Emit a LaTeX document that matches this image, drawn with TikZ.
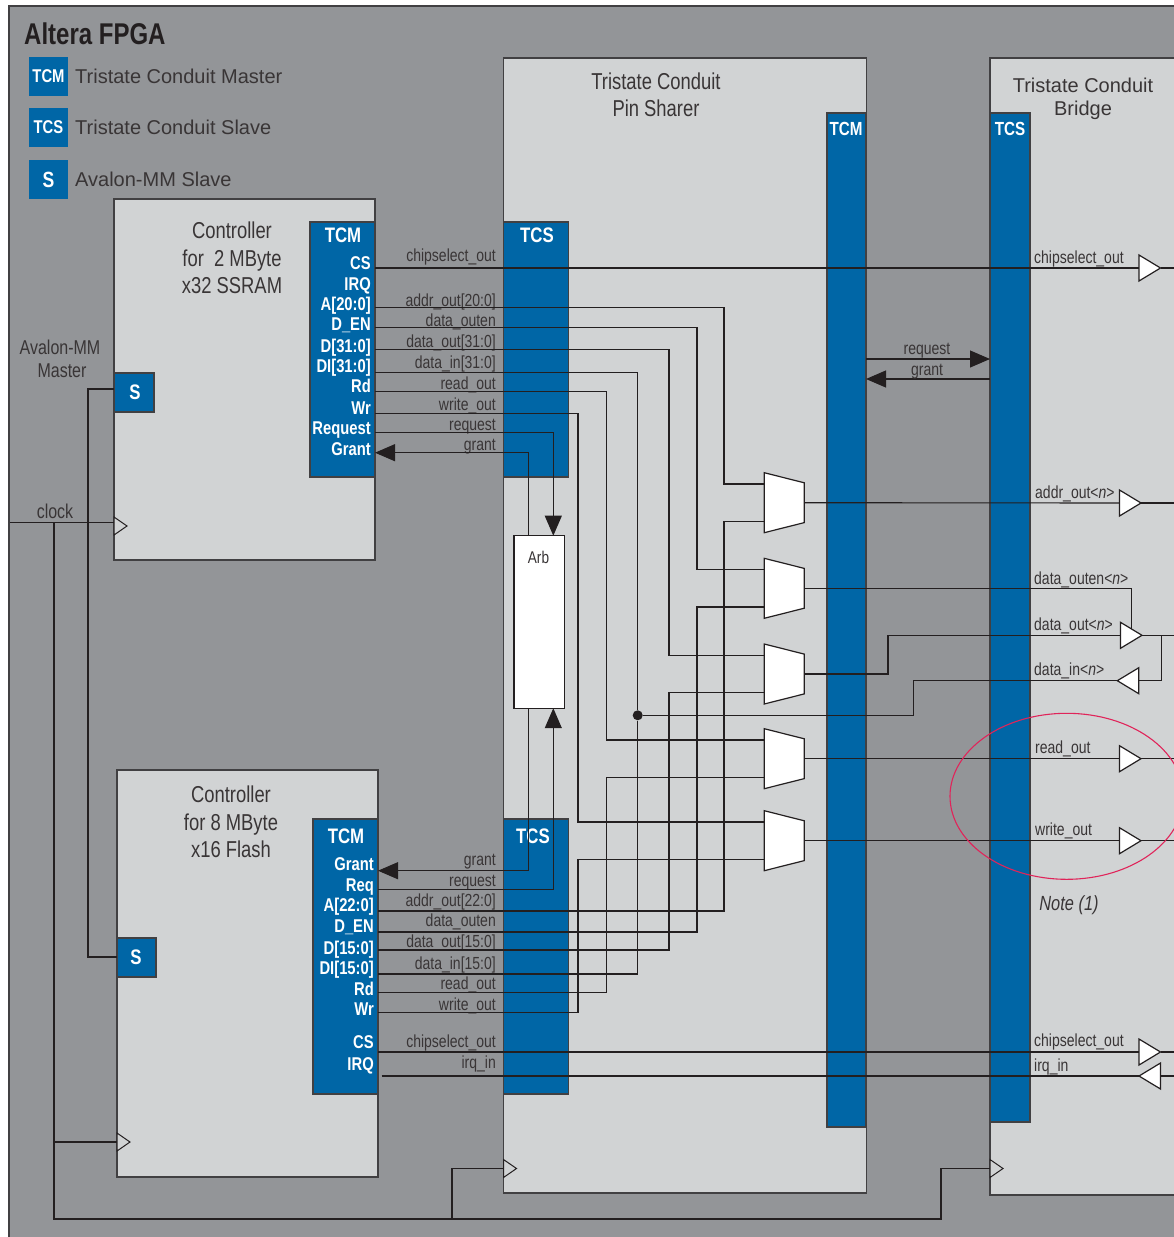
\documentclass[tikz,border=0pt]{standalone}
\usepackage{fontspec}
\setmainfont{Liberation Sans}
\newfontfamily\condfont[FakeStretch=0.8]{Liberation Sans}
\usetikzlibrary{arrows.meta,calc,shapes.geometric}
\definecolor{ink}{HTML}{231F20}
\definecolor{edge}{HTML}{414042}
\definecolor{fpgagray}{HTML}{939598}
\definecolor{panelgray}{HTML}{D1D3D4}
\definecolor{conduitblue}{HTML}{0066A6}
\definecolor{noteline}{HTML}{E0245A}

\tikzset{
  panel/.style={draw=edge,line width=1.3pt,fill=panelgray,anchor=north west,inner sep=0pt,outer sep=0pt},
  bluebar/.style={draw=edge,line width=1.1pt,fill=conduitblue,anchor=north west,inner sep=0pt,outer sep=0pt},
  legendbox/.style={fill=conduitblue,text=white,minimum width=39pt,minimum height=39pt,inner sep=0pt,
        font=\condfont\bfseries\fontsize{18.5}{18.5}\selectfont},
  legendtext/.style={anchor=base west,inner sep=0pt,text=ink!90,font=\fontsize{20}{20}\selectfont},
  porthead/.style={anchor=base,inner sep=0pt,text=white,font=\condfont\bfseries\fontsize{21}{21}\selectfont},
  pinlabel/.style={anchor=base east,inner sep=0pt,text=white,font=\condfont\bfseries\fontsize{18.5}{18.5}\selectfont},
  wirelabel/.style={anchor=base east,inner sep=0pt,text=ink!90,font=\condfont\fontsize{17.5}{17.5}\selectfont},
  sidelabel/.style={wirelabel,anchor=base west},
  blocktitle/.style={align=center,inner sep=0pt,text=ink!90,font=\condfont\fontsize{23}{27.5}\selectfont},
  wire/.style={draw=ink,line width=1.1pt},
  bigarrow/.style={wire,-{Triangle[length=20pt,width=17pt]},shorten >=0pt},
  muxbox/.style={trapezium,trapezium stretches=true,shape border rotate=270,trapezium angle=75,
        draw=ink,line width=1.2pt,fill=white,inner sep=0pt,outer sep=0pt,minimum width=60pt,minimum height=40pt,
        execute at begin node=\phantom{x}},
  buffer/.style={isosceles triangle,isosceles triangle stretches=true,anchor=apex,draw=ink,line width=1.2pt,
        fill=white,inner sep=0pt,outer sep=0pt,minimum width=26pt,minimum height=21.5pt,
        execute at begin node=\phantom{x}},
  clockmark/.style={isosceles triangle,isosceles triangle stretches=true,anchor=lower side,draw=ink,line width=1pt,
        fill=panelgray,inner sep=0pt,outer sep=0pt,minimum width=18pt,minimum height=13pt,
        execute at begin node=\phantom{x}},
}

\begin{document}
\begin{tikzpicture}[x=1pt,y=-1pt]
  \useasboundingbox (0,0) rectangle (1174,1237);
  \clip (0,0) rectangle (1174,1237);

  % device outline and legend
  \node[panel,fill=fpgagray,minimum width=1190pt,minimum height=1260pt] (fpga) at (9,6) {};
  \node[anchor=base west,inner sep=0pt,text=ink,font=\condfont\bfseries\fontsize{30}{30}\selectfont] (fpgatitle) at (24,44) {Altera FPGA};
  \node[legendbox] (lgtcm) at (48.5,76.5) {TCM};
  \node[legendbox] (lgtcs) at (48.5,127.5) {TCS};
  \node[legendbox,font=\condfont\bfseries\fontsize{22}{22}\selectfont] (lgs) at (48.5,179.5) {S};
  \node[legendtext] (lgtcmtext) at (75,83.2) {Tristate Conduit Master};
  \node[legendtext] (lgtcstext) at (75,134) {Tristate Conduit Slave};
  \node[legendtext] (lgstext) at (75,186.2) {Avalon-MM Slave};

  % main blocks
  \node[panel,minimum width=261pt,minimum height=361pt] (ctrla) at (114,199) {};
  \node[panel,minimum width=261pt,minimum height=407pt] (ctrlb) at (117,770) {};
  \node[panel,minimum width=363pt,minimum height=1135pt] (sharer) at (503.5,58) {};
  \node[panel,minimum width=220pt,minimum height=1137pt] (bridge) at (990,58) {};
  \node[bluebar,minimum width=65pt,minimum height=255pt] (tcma) at (310,222) {};
  \node[bluebar,minimum width=65pt,minimum height=275pt] (tcmb) at (313,819) {};
  \node[bluebar,minimum width=65pt,minimum height=255pt] (tcsa) at (503.5,222) {};
  \node[bluebar,minimum width=65pt,minimum height=275pt] (tcsb) at (503.5,819) {};
  \node[bluebar,minimum width=39pt,minimum height=1014pt] (tcmshare) at (827,113) {};
  \node[bluebar,minimum width=40pt,minimum height=1009pt] (tcsbridge) at (990,113) {};
  \node[bluebar,minimum width=40pt,minimum height=39pt] (slavea) at (114,373) {};
  \node[bluebar,minimum width=39pt,minimum height=39pt] (slaveb) at (117,938) {};
  \node[panel,fill=white,draw=ink,minimum width=50.5pt,minimum height=172.5pt] (arb) at (514,535.7) {};
  \node[anchor=base,inner sep=0pt,text=ink!90,font=\condfont\fontsize{17}{17}\selectfont] (arbtext) at (538.5,563) {Arb};

  % block titles
  \node[blocktitle] (ctrlatitle) at (232,258) {Controller\\for\ \ 2 MByte\\x32 SSRAM};
  \node[blocktitle] (ctrlbtitle) at (231,822) {Controller\\for 8 MByte\\x16 Flash};
  \node[blocktitle] (sharertitle) at (656,95) {Tristate Conduit\\Pin Sharer};
  \node[blocktitle,font=\fontsize{20}{23}\selectfont] (bridgetitle) at (1083,99) {Tristate Conduit\\Bridge};
  \node[blocktitle,font=\condfont\fontsize{20}{23}\selectfont] (mastertitle) at (60,359) {Avalon-MM\\\hspace*{4pt}Master};
  \node[anchor=base,inner sep=0pt,text=ink!90,font=\condfont\fontsize{20}{20}\selectfont] (clocktext) at (55,518) {clock};
  \node[anchor=base,inner sep=0pt,text=ink!90,font=\condfont\itshape\fontsize{20.5}{20.5}\selectfont] (notetext) at (1069,910) {Note (1)};

  % port headers
  \node[porthead] (tcmahead) at (343,242.3) {TCM};
  \node[porthead] (tcsahead) at (537,242.3) {TCS};
  \node[porthead] (tcmbhead) at (346,843.3) {TCM};
  \node[porthead] (tcsbhead) at (533,843.3) {TCS};
  \node[porthead,font=\condfont\bfseries\fontsize{19}{19}\selectfont] (tcmsharehead) at (846,135) {TCM};
  \node[porthead,font=\condfont\bfseries\fontsize{19}{19}\selectfont] (tcsbridgehead) at (1010,135) {TCS};
  \node[porthead] (slaveahead) at (135,399) {S};
  \node[porthead] (slavebhead) at (136,964) {S};

  % pins and wire labels of the two controllers
  \foreach \sig/\ptext/\wtext/\py/\ly/\wy in {
    cs/CS/chipselect\_out/269.3/261/268,
    addr/A[20:0]/addr\_out[20:0]/310.7/306/307.3,
    outen/D\_EN/data\_outen/330.7/326.7/327.7,
    dout/D[31:0]/data\_out[31:0]/352.7/347.7/349.3,
    din/DI[31:0]/data\_in[31:0]/372.7/368.3/372.7,
    read/Rd/read\_out/392.7/389.3/391.7,
    write/Wr/write\_out/414/410/413.3,
    req/Request/request/434/430/432.7,
    grant/Grant/grant/455/450.7/452.7}{
    \node[pinlabel] (mapin-\sig) at (371,\py) {\ptext};
    \node[wirelabel] (malbl-\sig) at (496,\ly) {\wtext};
    \coordinate (ma-\sig) at (375,\wy);
  }
  \node[pinlabel] (mapin-irq) at (371,290) {IRQ};
  \foreach \sig/\ptext/\wtext/\py/\ly/\wy in {
    grant/Grant/grant/870.7/865/870.7,
    req/Req/request/891.7/886/889.3,
    addr/A[22:0]/addr\_out[22:0]/911.7/906.7/911,
    outen/D\_EN/data\_outen/932.7/926.7/932,
    dout/D[15:0]/data\_out[15:0]/954.3/947.7/950,
    din/DI[15:0]/data\_in[15:0]/974/969.3/974,
    read/Rd/read\_out/995/989.3/992.3,
    write/Wr/write\_out/1015.7/1010/1012.3,
    cs/CS/chipselect\_out/1048.3/1047.3/1052,
    irq/IRQ/irq\_in/1070/1068.3/1076}{
    \node[pinlabel] (mbpin-\sig) at (374,\py) {\ptext};
    \node[wirelabel] (mblbl-\sig) at (496,\ly) {\wtext};
    \coordinate (mb-\sig) at (378,\wy);
  }

  % multiplexers
  \foreach \muxname/\muxY in {addr/502.7,outen/588.3,dout/674,read/758.7,write/840.7}{
    \node[muxbox] (mux-\muxname) at (784.3,\muxY) {};
    \coordinate (mux-\muxname-a) at ($(mux-\muxname.bottom side)+(0,-18.7)$);
    \coordinate (mux-\muxname-b) at ($(mux-\muxname.bottom side)+(0,18.7)$);
  }

  % routing from both controllers to the multiplexers
  \foreach \sig/\trackX in {addr/724,outen/697,dout/669,read/606.5,write/578}{
    \coordinate (trk-\sig) at (\trackX,600);
    \draw[wire] (ma-\sig) -| (trk-\sig |- mux-\sig-a) -- (mux-\sig-a);
    \draw[wire] (mb-\sig) -| (trk-\sig |- mux-\sig-b) -- (mux-\sig-b);
  }
  \node[circle,fill=ink,minimum size=10pt,inner sep=0pt] (jdin) at (637.7,715.3) {};
  \draw[wire] (ma-din) -| (jdin);
  \draw[wire] (mb-din) -| (jdin);

  % arbiter
  \coordinate (trkgrant) at (528.3,600);
  \coordinate (trkreq) at (553.3,600);
  \draw[bigarrow] (arb.north -| trkgrant) |- (ma-grant);
  \draw[bigarrow] (ma-req) -| (arb.north -| trkreq);
  \draw[bigarrow] (arb.south -| trkgrant) |- (mb-grant);
  \draw[bigarrow] (mb-req) -| (arb.south -| trkreq);

  % request and grant to the bridge
  \coordinate (shareR) at (866,359);
  \coordinate (bridgeR) at (990,359);
  \coordinate (shareG) at (866,379);
  \coordinate (bridgeG) at (990,379);
  \draw[bigarrow] (shareR) -- (bridgeR);
  \draw[bigarrow] (bridgeG) -- (shareG);
  \node[wirelabel,anchor=base] (reqtext) at (927,354) {request};
  \node[wirelabel,anchor=base] (granttext) at (927,375) {grant};

  % pins leaving on the right
  \node[buffer] (bufcsa) at (1160.5,268) {};
  \node[buffer] (bufaddr) at (1141,503) {};
  \node[buffer] (bufdout) at (1142,635.3) {};
  \node[buffer,shape border rotate=180] (bufdin) at (1117.3,680.7) {};
  \node[buffer] (bufread) at (1141,758.7) {};
  \node[buffer] (bufwrite) at (1141,840.7) {};
  \node[buffer] (bufcsb) at (1160.5,1052) {};
  \node[buffer,shape border rotate=180] (bufirq) at (1139,1076) {};
  \foreach \bufname/\outY in {csa/268,addr/503,dout/635.3,read/758.7,write/840.7,csb/1052,irq/1076}{
    \coordinate (out-\bufname) at (1174,\outY);
  }
  \draw[wire] (ma-cs) -- (bufcsa.lower side);
  \draw[wire] (bufcsa.apex) -- (out-csa);
  \draw[wire] (mux-addr.top side) -- (bufaddr.lower side);
  \draw[wire] (bufaddr.apex) -- (out-addr);
  \draw[wire] (mux-outen.top side) -| (bufdout.left side);
  \coordinate (stepdout) at (888,635.3);
  \draw[wire] (mux-dout.top side) -| (stepdout) -- (bufdout.lower side);
  \draw[wire] (bufdout.apex) -- (out-dout);
  \coordinate (stepdin) at (913.7,680.7);
  \draw[wire] (jdin) -| (stepdin) -- (bufdin.apex);
  \coordinate (tapdin) at (1161.7,635.3);
  \draw[wire] (tapdin) |- (bufdin.lower side);
  \draw[wire] (mux-read.top side) -- (bufread.lower side);
  \draw[wire] (bufread.apex) -- (out-read);
  \draw[wire] (mux-write.top side) -- (bufwrite.lower side);
  \draw[wire] (bufwrite.apex) -- (out-write);
  \draw[wire] (mb-cs) -- (bufcsb.lower side);
  \draw[wire] (bufcsb.apex) -- (out-csb);
  \coordinate (irqstart) at (381.7,1076);
  \coordinate (irqmid) at (817,1076);
  \draw[wire,line width=2pt] (irqstart) -- (irqmid);
  \draw[wire] (irqmid) -- (bufirq.apex);
  \draw[wire] (out-irq) -- (bufirq.lower side);

  \node[sidelabel] (sidecsa) at (1034,263) {chipselect\_out};
  \node[sidelabel] (sideaddr) at (1035,498.3) {addr\_out<\textit{n}>};
  \node[sidelabel] (sideouten) at (1034,584) {data\_outen<\textit{n}>};
  \node[sidelabel] (sidedout) at (1034,630) {data\_out<\textit{n}>};
  \node[sidelabel] (sidedin) at (1034,675) {data\_in<\textit{n}>};
  \node[sidelabel] (sideread) at (1035,753.3) {read\_out};
  \node[sidelabel] (sidewrite) at (1035,835) {write\_out};
  \node[sidelabel] (sidecsb) at (1034,1046) {chipselect\_out};
  \node[sidelabel] (sideirq) at (1034,1071) {irq\_in};

  % Avalon-MM master and clock
  \coordinate (mastertrack) at (88,600);
  \draw[wire] (slavea.west |- 0,389) -| (mastertrack) |- (slaveb.west |- 0,957);
  \node[clockmark] (clka) at (114,526) {};
  \node[clockmark] (clkb) at (117,1142) {};
  \node[clockmark] (clkc) at (503.5,1168.5) {};
  \node[clockmark] (clkd) at (990,1168.5) {};
  \coordinate (clkin) at (10,522.7);
  \coordinate (clkedge) at (114,522.7);
  \coordinate (clktrunk) at (54,522.7);
  \coordinate (clkturn) at (941,1219);
  \coordinate (clkdrop) at (452,1219);
  \draw[wire] (clkin) -- (clkedge);
  \draw[wire] (clktrunk) |- (clkturn) |- (clkd.lower side);
  \draw[wire] (clktrunk |- clkb.lower side) -- (clkb.lower side);
  \draw[wire] (clkdrop) |- (clkc.lower side);

  \node[ellipse,draw=noteline,line width=1.1pt,inner sep=0pt,minimum width=233.4pt,minimum height=166pt] (noteoval) at (1066.7,796.3) {};
\end{tikzpicture}
\end{document}
